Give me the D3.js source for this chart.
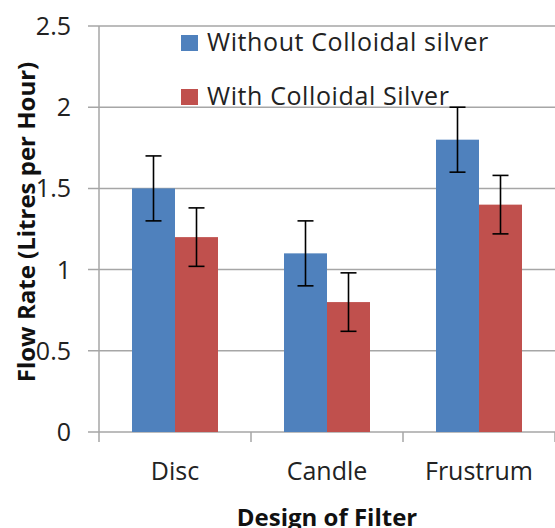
<!DOCTYPE html>
<html>
<head>
<meta charset="utf-8">
<script src="https://cdn.jsdelivr.net/npm/d3@7"></script>
<style>
  body { margin: 0; background: #fff; }
  text { font-family: "Open Sans", "Liberation Sans", sans-serif; }
</style>
</head>
<body>
<div id="chart"></div>
<script>
// data
var categories = ["Disc", "Candle", "Frustrum"];
var seriesNames = ["Without Colloidal silver", "With Colloidal Silver"];
var withoutSilver = [1.5, 1.1, 1.8];
var withSilver = [1.2, 0.8, 1.4];
var withoutErr = [0.2, 0.2, 0.2];
var withErr = [0.18, 0.18, 0.18];
var yTicks = [0, 0.5, 1, 1.5, 2, 2.5];
var colors = ["#4F81BD", "#C0504D"];

var width = 555, height = 528;
var margin = {top: 26, right: 0, bottom: 96, left: 99};

var svg = d3.select("#chart").append("svg")
    .attr("width", width)
    .attr("height", height);

var g = svg.append("g")
    .attr("transform", "translate(" + margin.left + "," + margin.top + ")");

var w = width - margin.left - margin.right;
var h = height - margin.top - margin.bottom;

var x0 = d3.scaleBand().domain(categories).range([0, w]).paddingInner(0).paddingOuter(0);
var x1 = d3.scaleBand().domain([0, 1]).range([33, x0.bandwidth() - 33]);
var y = d3.scaleLinear().domain([0, 2.5]).range([h, 0]);

// gridlines
g.selectAll(".grid")
    .data(yTicks)
    .enter().append("line")
    .attr("x1", -11).attr("x2", w)
    .attr("y1", function(d) { return y(d); })
    .attr("y2", function(d) { return y(d); })
    .attr("stroke", "#a6a6a6")
    .attr("stroke-width", 1.5);

// y tick labels
g.selectAll(".ylab")
    .data(yTicks)
    .enter().append("text")
    .attr("x", -28)
    .attr("y", function(d) { return y(d); })
    .attr("dy", "0.36em")
    .attr("text-anchor", "end")
    .attr("font-size", 25)
    .attr("fill", "#222")
    .text(function(d) { return d; });

// bars
var rows = categories.map(function(c, i) {
    return {cat: c, vals: [
        {s: 0, v: withoutSilver[i], e: withoutErr[i]},
        {s: 1, v: withSilver[i], e: withErr[i]}
    ]};
});

var groups = g.selectAll(".grp")
    .data(rows)
    .enter().append("g")
    .attr("transform", function(d) { return "translate(" + x0(d.cat) + ",0)"; });

groups.selectAll("rect")
    .data(function(d) { return d.vals; })
    .enter().append("rect")
    .attr("x", function(d) { return x1(d.s); })
    .attr("y", function(d) { return y(d.v); })
    .attr("width", x1.bandwidth())
    .attr("height", function(d) { return h - y(d.v); })
    .attr("fill", function(d) { return colors[d.s]; });

// error bars
var eb = groups.selectAll(".err")
    .data(function(d) { return d.vals; })
    .enter().append("g")
    .attr("stroke", "#000")
    .attr("stroke-width", 1.6);
eb.append("line")
    .attr("x1", function(d) { return x1(d.s) + x1.bandwidth() / 2; })
    .attr("x2", function(d) { return x1(d.s) + x1.bandwidth() / 2; })
    .attr("y1", function(d) { return y(d.v + d.e); })
    .attr("y2", function(d) { return y(d.v - d.e); });
[1, -1].forEach(function(sign) {
    eb.append("line")
        .attr("x1", function(d) { return x1(d.s) + x1.bandwidth() / 2 - 8; })
        .attr("x2", function(d) { return x1(d.s) + x1.bandwidth() / 2 + 8; })
        .attr("y1", function(d) { return y(d.v + sign * d.e); })
        .attr("y2", function(d) { return y(d.v + sign * d.e); });
});

// axes lines
g.append("line")
    .attr("x1", 0).attr("x2", 0)
    .attr("y1", 0).attr("y2", h)
    .attr("stroke", "#a6a6a6").attr("stroke-width", 1.5);

var xTickPos = categories.map(function(c) { return x0(c); }).concat([w]);
g.selectAll(".xtick")
    .data(xTickPos)
    .enter().append("line")
    .attr("x1", function(d) { return d; })
    .attr("x2", function(d) { return d; })
    .attr("y1", h).attr("y2", h + 10)
    .attr("stroke", "#a6a6a6").attr("stroke-width", 1.5);

// x labels
g.selectAll(".xlab")
    .data(categories)
    .enter().append("text")
    .attr("x", function(d) { return x0(d) + x0.bandwidth() / 2; })
    .attr("y", h + 48)
    .attr("text-anchor", "middle")
    .attr("font-size", 25)
    .attr("fill", "#222")
    .text(function(d) { return d; });

// axis titles
svg.append("text")
    .attr("x", 327).attr("y", 526)
    .attr("text-anchor", "middle")
    .attr("font-size", 24)
    .attr("font-weight", "bold")
    .attr("fill", "#111")
    .text("Design of Filter");

svg.append("text")
    .attr("transform", "translate(35,222) rotate(-90)")
    .attr("text-anchor", "middle")
    .attr("font-size", 24)
    .attr("font-weight", "bold")
    .attr("fill", "#111")
    .text("Flow Rate (Litres per  Hour)");

// legend
var legend = svg.selectAll(".leg")
    .data(seriesNames)
    .enter().append("g")
    .attr("transform", function(d, i) { return "translate(181," + (35 + i * 54) + ")"; });
legend.append("rect")
    .attr("width", 17).attr("height", 16)
    .attr("fill", function(d, i) { return colors[i]; });
legend.append("text")
    .attr("x", 26).attr("y", 16)
    .attr("font-size", 25)
    .attr("letter-spacing", 0.6)
    .attr("fill", "#222")
    .text(function(d) { return d; });
</script>
</body>
</html>
